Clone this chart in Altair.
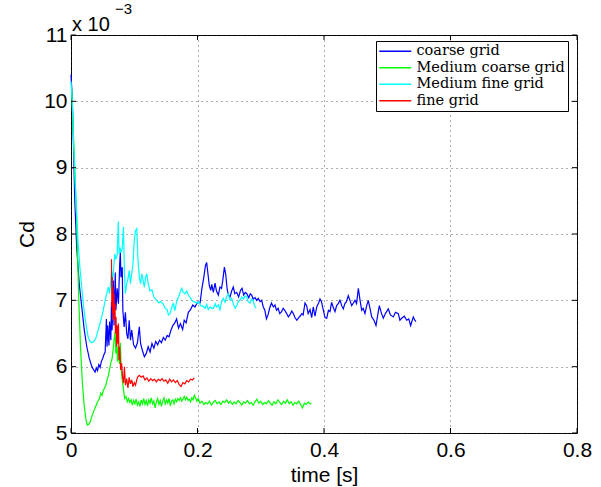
import altair as alt
import pandas as pd

series_names = ["coarse grid", "Medium coarse grid", "Medium fine grid", "fine grid"]
series_colors = ["#0000ff", "#00ff00", "#00ffff", "#ff0000"]

x_ticks = [0, 0.2, 0.4, 0.6, 0.8]
y_ticks = [5, 6, 7, 8, 9, 10, 11]

# [time (s), Cd (x 1e-3)]
coarse_grid = [
    [0.000, 10.40], [0.002, 10.05], [0.004, 9.30], [0.006, 8.50], [0.009, 7.80], [0.013, 7.25],
    [0.017, 6.90], [0.021, 6.55], [0.025, 6.30], [0.029, 6.12], [0.033, 6.00], [0.036, 5.95],
    [0.038, 5.92], [0.040, 5.98], [0.042, 5.94], [0.044, 6.03], [0.046, 5.99], [0.048, 6.08],
    [0.050, 6.12], [0.052, 6.18], [0.054, 6.22], [0.056, 6.72], [0.057, 6.30], [0.058, 6.62],
    [0.060, 6.32], [0.061, 6.68], [0.063, 6.40], [0.064, 6.98], [0.065, 6.55], [0.067, 7.30],
    [0.068, 6.62], [0.070, 7.42], [0.071, 6.85], [0.073, 7.18], [0.075, 6.95], [0.077, 7.55],
    [0.078, 7.72], [0.079, 7.35], [0.081, 7.50], [0.082, 6.85], [0.084, 6.60], [0.086, 6.82],
    [0.088, 6.50], [0.090, 6.42], [0.092, 6.70], [0.094, 6.40], [0.096, 6.55], [0.099, 6.33],
    [0.102, 6.28], [0.105, 6.36], [0.108, 6.60], [0.110, 6.35], [0.113, 6.24], [0.116, 6.15],
    [0.119, 6.20], [0.122, 6.30], [0.125, 6.22], [0.128, 6.35], [0.131, 6.28], [0.134, 6.38],
    [0.137, 6.33], [0.140, 6.40], [0.143, 6.36], [0.146, 6.44], [0.149, 6.40], [0.152, 6.47],
    [0.155, 6.45], [0.158, 6.55], [0.161, 6.62], [0.164, 6.66], [0.167, 6.72], [0.170, 6.58],
    [0.173, 6.65], [0.1765, 6.56], [0.179, 6.70], [0.182, 6.66], [0.1855, 6.82], [0.189, 6.86],
    [0.1925, 6.93], [0.196, 6.90], [0.200, 6.97], [0.204, 6.96], [0.207, 7.18], [0.210, 7.35],
    [0.2125, 7.52], [0.2145, 7.57], [0.2165, 7.40], [0.2187, 7.22], [0.221, 7.15], [0.2225, 7.24],
    [0.225, 7.12], [0.2277, 7.26], [0.230, 7.14], [0.233, 7.08], [0.2355, 7.20], [0.238, 7.18],
    [0.240, 7.30], [0.2425, 7.50], [0.2445, 7.40], [0.247, 7.16], [0.249, 7.08], [0.2514, 7.05],
    [0.254, 7.14], [0.2566, 7.20], [0.259, 7.10], [0.262, 7.12], [0.265, 7.05], [0.268, 7.15],
    [0.2705, 7.18], [0.273, 7.08], [0.2755, 7.12], [0.278, 7.10], [0.281, 7.04], [0.2835, 7.10],
    [0.2857, 7.08], [0.288, 7.02], [0.291, 7.04], [0.2936, 7.00], [0.296, 7.03], [0.299, 6.98],
    [0.3015, 7.00], [0.304, 6.90], [0.3065, 6.85], [0.309, 6.72], [0.3115, 6.78], [0.314, 6.88],
    [0.317, 6.96], [0.320, 6.90], [0.3225, 6.93], [0.325, 6.85], [0.3275, 6.88], [0.330, 6.80],
    [0.333, 6.83], [0.3355, 6.88], [0.338, 6.85], [0.341, 6.80], [0.3436, 6.75], [0.346, 6.78],
    [0.349, 6.84], [0.3515, 6.80], [0.354, 6.74], [0.357, 6.70], [0.360, 6.74], [0.362, 6.76],
    [0.365, 6.80], [0.367, 6.78], [0.370, 6.96], [0.3725, 6.92], [0.375, 6.80], [0.378, 6.86],
    [0.3805, 6.74], [0.383, 6.90], [0.3858, 6.76], [0.3885, 6.90], [0.3915, 6.96], [0.3937, 7.02],
    [0.396, 6.98], [0.399, 6.85], [0.4016, 6.74], [0.4043, 6.73], [0.407, 6.85], [0.4095, 6.83],
    [0.412, 6.97], [0.4145, 6.90], [0.4174, 6.83], [0.420, 6.92], [0.4225, 6.95], [0.4253, 7.00],
    [0.428, 6.92], [0.4305, 6.87], [0.433, 6.95], [0.4355, 6.98], [0.4384, 7.07], [0.441, 7.00],
    [0.4438, 6.92], [0.4465, 6.96], [0.449, 7.00], [0.4515, 6.95], [0.4543, 7.18], [0.457, 7.00],
    [0.4596, 6.85], [0.462, 6.88], [0.4648, 6.80], [0.4675, 6.92], [0.470, 7.00], [0.4727, 6.88],
    [0.4754, 6.75], [0.479, 6.70], [0.4822, 6.62], [0.485, 6.78], [0.4875, 6.92], [0.491, 6.80],
    [0.4938, 6.73], [0.497, 6.80], [0.5017, 6.87], [0.505, 6.78], [0.5096, 6.75], [0.513, 6.82],
    [0.5175, 6.80], [0.520, 6.70], [0.5228, 6.73], [0.527, 6.76], [0.5307, 6.70], [0.534, 6.72],
    [0.537, 6.62], [0.5412, 6.75], [0.5435, 6.70], [0.5455, 6.68],
]

medium_coarse_grid = [
    [0.001, 10.20], [0.003, 9.70], [0.006, 9.00], [0.009, 8.20], [0.012, 7.10], [0.015, 6.30],
    [0.018, 5.75], [0.021, 5.40], [0.024, 5.18], [0.026, 5.12], [0.028, 5.13], [0.030, 5.16],
    [0.033, 5.25], [0.036, 5.33], [0.039, 5.40], [0.042, 5.47], [0.045, 5.52], [0.047, 5.60],
    [0.049, 5.57], [0.051, 5.64], [0.053, 5.68], [0.055, 5.72], [0.057, 5.80], [0.059, 5.86],
    [0.061, 5.96], [0.063, 6.06], [0.065, 6.12], [0.067, 6.30], [0.068, 6.40], [0.0696, 6.52],
    [0.071, 6.20], [0.072, 6.45], [0.0735, 6.08], [0.075, 6.30], [0.0765, 6.04], [0.078, 6.36],
    [0.0795, 5.95], [0.081, 5.80], [0.083, 5.65], [0.085, 5.52], [0.087, 5.55], [0.089, 5.47],
    [0.091, 5.52], [0.093, 5.46], [0.095, 5.50], [0.097, 5.42], [0.099, 5.49], [0.101, 5.44],
    [0.103, 5.51], [0.105, 5.42], [0.107, 5.47], [0.109, 5.40], [0.111, 5.50], [0.113, 5.44],
    [0.115, 5.52], [0.117, 5.43], [0.119, 5.49], [0.121, 5.41], [0.123, 5.50], [0.125, 5.45],
    [0.127, 5.53], [0.129, 5.44], [0.131, 5.48], [0.133, 5.38], [0.135, 5.47], [0.137, 5.52],
    [0.139, 5.43], [0.141, 5.49], [0.143, 5.40], [0.145, 5.48], [0.147, 5.53], [0.149, 5.44],
    [0.151, 5.50], [0.153, 5.45], [0.155, 5.52], [0.157, 5.41], [0.159, 5.48], [0.161, 5.50],
    [0.163, 5.44], [0.165, 5.51], [0.167, 5.47], [0.169, 5.52], [0.171, 5.49], [0.173, 5.53],
    [0.175, 5.48], [0.177, 5.51], [0.179, 5.55], [0.181, 5.50], [0.183, 5.54], [0.185, 5.49],
    [0.187, 5.51], [0.189, 5.47], [0.191, 5.53], [0.193, 5.50], [0.195, 5.57], [0.197, 5.53],
    [0.199, 5.48], [0.201, 5.52], [0.204, 5.45], [0.207, 5.48], [0.210, 5.43], [0.213, 5.46],
    [0.216, 5.44], [0.219, 5.48], [0.222, 5.42], [0.225, 5.46], [0.228, 5.49], [0.231, 5.44],
    [0.234, 5.47], [0.237, 5.43], [0.240, 5.48], [0.243, 5.46], [0.246, 5.50], [0.249, 5.45],
    [0.252, 5.48], [0.255, 5.43], [0.258, 5.47], [0.261, 5.44], [0.264, 5.49], [0.267, 5.46],
    [0.270, 5.42], [0.273, 5.47], [0.276, 5.45], [0.279, 5.49], [0.282, 5.44], [0.285, 5.46],
    [0.288, 5.42], [0.291, 5.47], [0.294, 5.51], [0.297, 5.45], [0.300, 5.48], [0.303, 5.43],
    [0.306, 5.46], [0.309, 5.44], [0.312, 5.49], [0.315, 5.45], [0.318, 5.42], [0.321, 5.47],
    [0.324, 5.44], [0.327, 5.50], [0.330, 5.46], [0.333, 5.43], [0.336, 5.48], [0.339, 5.45],
    [0.342, 5.50], [0.345, 5.44], [0.348, 5.47], [0.351, 5.42], [0.354, 5.46], [0.357, 5.44],
    [0.360, 5.48], [0.363, 5.43], [0.366, 5.38], [0.369, 5.45], [0.372, 5.43], [0.375, 5.47],
    [0.378, 5.44], [0.380, 5.45],
]

medium_fine_grid = [
    [0.000, 10.30], [0.002, 10.00], [0.004, 9.40], [0.007, 8.70], [0.011, 7.90], [0.014, 7.50],
    [0.017, 7.20], [0.020, 6.90], [0.023, 6.68], [0.027, 6.45], [0.030, 6.38], [0.033, 6.36],
    [0.036, 6.38], [0.039, 6.42], [0.042, 6.52], [0.045, 6.62], [0.0485, 6.75], [0.051, 6.85],
    [0.054, 7.00], [0.057, 7.12], [0.059, 7.20], [0.061, 7.10], [0.063, 7.32], [0.064, 7.45],
    [0.066, 7.30], [0.068, 7.55], [0.0696, 7.70], [0.071, 7.62], [0.073, 7.68], [0.0748, 8.19],
    [0.076, 7.70], [0.0775, 7.80], [0.079, 7.72], [0.081, 7.78], [0.083, 8.11], [0.0845, 7.40],
    [0.086, 7.10], [0.088, 7.25], [0.090, 7.32], [0.092, 7.45], [0.094, 7.25], [0.096, 7.40],
    [0.098, 7.55], [0.100, 7.90], [0.102, 8.05], [0.104, 8.08], [0.106, 7.60], [0.108, 7.35],
    [0.110, 7.25], [0.112, 7.40], [0.114, 7.30], [0.116, 7.20], [0.118, 7.35], [0.120, 7.40],
    [0.122, 7.25], [0.125, 7.14], [0.128, 7.16], [0.131, 7.05], [0.1355, 7.00], [0.139, 6.96],
    [0.142, 6.98], [0.146, 6.94], [0.149, 6.88], [0.152, 6.86], [0.154, 6.78], [0.1565, 6.80],
    [0.159, 6.88], [0.1617, 6.96], [0.164, 6.84], [0.167, 6.98], [0.170, 7.05], [0.1725, 7.12],
    [0.175, 7.18], [0.1775, 7.12], [0.180, 7.10], [0.183, 7.14], [0.1855, 7.08], [0.188, 7.05],
    [0.191, 7.00], [0.194, 6.98], [0.1987, 6.96], [0.202, 6.98], [0.205, 6.92], [0.209, 6.91],
    [0.212, 6.88], [0.2145, 6.94], [0.217, 6.86], [0.220, 6.90], [0.2225, 6.88], [0.225, 6.88],
    [0.228, 6.95], [0.230, 6.90], [0.233, 6.93], [0.2355, 6.86], [0.238, 6.98], [0.2408, 7.03],
    [0.2435, 6.97], [0.246, 7.05], [0.2487, 7.10], [0.2514, 7.00], [0.254, 7.03], [0.2565, 6.95],
    [0.2593, 6.88], [0.262, 6.92], [0.2645, 6.98], [0.267, 7.00], [0.270, 7.05], [0.273, 7.02],
    [0.275, 7.07], [0.2778, 7.05], [0.280, 6.98], [0.283, 6.96], [0.2855, 7.02], [0.288, 7.00],
    [0.290, 6.92], [0.2925, 6.88],
]

fine_grid = [
    [0.0640, 7.62], [0.0646, 6.90], [0.0652, 7.35], [0.0658, 6.70], [0.0665, 7.20], [0.0672, 6.80],
    [0.0680, 7.10], [0.0688, 6.72], [0.0695, 6.95], [0.0703, 6.50], [0.0712, 6.75], [0.0720, 6.30],
    [0.0730, 6.62], [0.0740, 6.35], [0.0750, 6.65], [0.0760, 6.10], [0.0770, 6.30], [0.0785, 5.95],
    [0.0800, 6.05], [0.0815, 5.85], [0.0830, 5.75], [0.0845, 6.00], [0.0860, 5.72], [0.0880, 5.82],
    [0.0900, 5.68], [0.0920, 5.84], [0.0940, 5.74], [0.0960, 5.80], [0.0980, 5.70], [0.1000, 5.76],
    [0.1020, 5.72], [0.1050, 5.84], [0.1080, 5.87], [0.1110, 5.84], [0.1140, 5.86], [0.1170, 5.80],
    [0.1200, 5.83], [0.1230, 5.78], [0.1260, 5.82], [0.1290, 5.79], [0.1320, 5.81], [0.1350, 5.77],
    [0.1380, 5.81], [0.1410, 5.79], [0.1440, 5.82], [0.1470, 5.78], [0.1500, 5.80], [0.1530, 5.75],
    [0.1560, 5.81], [0.1590, 5.77], [0.1620, 5.80], [0.1650, 5.76], [0.1680, 5.79], [0.1710, 5.73],
    [0.1740, 5.70], [0.1770, 5.76], [0.1800, 5.74], [0.1830, 5.79], [0.1860, 5.77], [0.1890, 5.81],
    [0.1920, 5.80], [0.1950, 5.83],
]

series_data = [coarse_grid, medium_coarse_grid, medium_fine_grid, fine_grid]

rows = []
for name, pts in zip(series_names, series_data):
    for t, cd in pts:
        rows.append({"t": t, "cd": cd, "series": name})
df = pd.DataFrame(rows)

W, H = 506, 398
FONT = "Liberation Sans"

x_enc = alt.X(
    "t:Q",
    scale=alt.Scale(domain=[0, 0.8], nice=False, zero=False),
    axis=alt.Axis(
        values=x_ticks, format=".1~f", title="time [s]", labelPadding=6,
        labelFlush=False, labelOverlap=False,
        titleBaseline="alphabetic", titleY=48,
    ),
)
y_enc = alt.Y(
    "cd:Q",
    scale=alt.Scale(domain=[5, 11], nice=False, zero=False),
    axis=alt.Axis(
        values=y_ticks, format="d", title="Cd", labelPadding=4,
        labelFlush=False, labelOverlap=False,
        titleX=-38, titleY=H / 2, titleAlign="center", titleBaseline="alphabetic",
    ),
)
legend = alt.Legend(
    title=None, orient="none", legendX=305, legendY=6,
    fillColor="white", strokeColor="black", padding=3, cornerRadius=0,
    symbolType="M-4,0H4", symbolSize=64, symbolStrokeWidth=1.5,
    symbolOffset=9, labelOffset=14,
    labelFont="DejaVu Serif", labelFontSize=14.5, rowPadding=1.5,
    labelLimit=300, labelColor="black",
)
color_enc = alt.Color(
    "series:N", scale=alt.Scale(domain=series_names, range=series_colors), legend=legend
)

line_layers = []
for name in series_names:
    line_layers.append(
        alt.Chart(df)
        .transform_filter(alt.datum.series == name)
        .mark_line(strokeWidth=1.2)
        .encode(x=x_enc, y=y_enc, color=color_enc)
    )

xt_df = pd.DataFrame({"t": x_ticks})
yt_df = pd.DataFrame({"cd": y_ticks})
tick_x_bottom = alt.Chart(xt_df).mark_rule(color="black", strokeWidth=1).encode(
    x=x_enc, y=alt.value(H), y2=alt.value(H - 5))
tick_x_top = alt.Chart(xt_df).mark_rule(color="black", strokeWidth=1).encode(
    x=x_enc, y=alt.value(0), y2=alt.value(5))
tick_y_left = alt.Chart(yt_df).mark_rule(color="black", strokeWidth=1).encode(
    y=y_enc, x=alt.value(0), x2=alt.value(5))
tick_y_right = alt.Chart(yt_df).mark_rule(color="black", strokeWidth=1).encode(
    y=y_enc, x=alt.value(W), x2=alt.value(W - 5))

exp_base = alt.Chart(alt.Data(values=[{}])).mark_text(
    text="x 10", align="left", baseline="alphabetic", font=FONT, fontSize=20, color="black"
).encode(x=alt.value(1), y=alt.value(-4))
exp_sup = alt.Chart(alt.Data(values=[{}])).mark_text(
    text="\u22123", align="left", baseline="alphabetic", font=FONT, fontSize=15, color="black"
).encode(x=alt.value(44), y=alt.value(-21))

chart = (
    alt.layer(*line_layers, tick_x_bottom, tick_x_top, tick_y_left, tick_y_right, exp_base, exp_sup)
    .properties(
        width=W, height=H,
        padding={"left": 71, "top": 35, "right": 24, "bottom": 54},
        autosize=alt.AutoSizeParams(type="none"),
        background="white",
    )
    .configure_view(stroke="black", strokeWidth=1)
    .configure_axis(
        labelFont=FONT, labelFontSize=21, labelColor="black",
        titleFont=FONT, titleFontSize=21, titleFontWeight="normal", titleColor="black",
        domain=False, ticks=False, grid=True,
        gridColor="#333333", gridDash=[1, 4], gridWidth=1, gridOpacity=0.8,
    )
)

chart.save("out.html", embed_options={"renderer": "svg", "actions": False})
